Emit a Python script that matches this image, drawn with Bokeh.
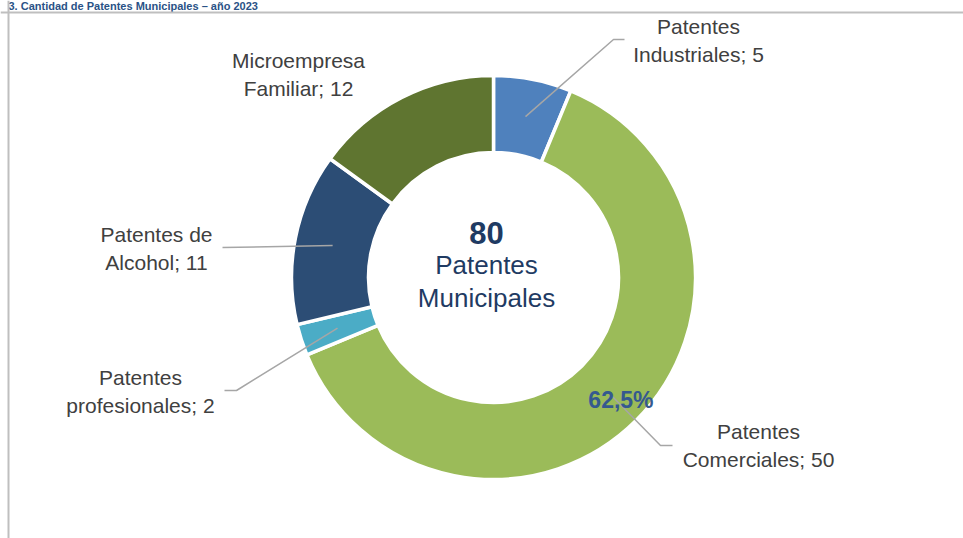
import math
from bokeh.plotting import figure
from bokeh.models import Range1d, ColumnDataSource, Span
from bokeh.core.properties import value
from bokeh.embed import file_html
from bokeh.resources import INLINE

# ---- data ----
title_text = "3. Cantidad de Patentes Municipales – año 2023"
categories = ["Patentes Industriales", "Patentes Comerciales", "Patentes profesionales",
              "Patentes de Alcohol", "Microempresa Familiar"]
counts = [5, 50, 2, 11, 12]
label_texts = ["Patentes\nIndustriales; 5", "Patentes\nComerciales; 50",
               "Patentes\nprofesionales; 2", "Patentes de\nAlcohol; 11",
               "Microempresa\nFamiliar; 12"]
center_total = "80"
center_caption = "Patentes\nMunicipales"
highlight_pct = "62,5%"

# ---- styles / layout ----
colors = ["#4F81BD", "#9BBB59", "#4BACC6", "#2C4D75", "#5F7530"]
W, H = 963, 538
CX, CY = 493, 261
R_IN, R_OUT = 125, 202
FONT = "Liberation Sans"

# label anchor positions (layout)
label_pos = [(698, 498), (758, 93), (140, 147), (156, 290), (298, 464)]
# leader elbows (layout); None = no leader
leaders = [[(613, 499), (624, 499)],
           [(660, 93), (672, 93)],
           [(236, 148), (224, 148)],
           [(222, 291)],
           None]

total = sum(counts)
starts, ends, mids = [], [], []
cum = 0
for c in counts:
    a0 = math.pi / 2 - 2 * math.pi * cum / total
    cum += c
    a1 = math.pi / 2 - 2 * math.pi * cum / total
    starts.append(a0)
    ends.append(a1)
    mids.append((a0 + a1) / 2)

p = figure(width=W, height=H, output_backend="svg", toolbar_location=None,
           x_range=Range1d(0, W), y_range=Range1d(0, H),
           min_border=0, x_axis_type=None, y_axis_type=None)
p.outline_line_color = None
p.grid.visible = False
p.background_fill_color = "white"
p.border_fill_color = "white"

# chart border (top & left visible)
p.add_layout(Span(location=H - 12, dimension="width", line_color="#BFBFBF", line_width=2))
p.add_layout(Span(location=8, dimension="height", line_color="#BFBFBF", line_width=2))

# title (kept fully visible in the narrow band above the chart border)
p.text(x=[8], y=[H - 5.5], text=[title_text], text_font=value(FONT), text_font_size="11px",
       text_font_style="bold", text_color="#2A5286", text_align="left",
       text_baseline="middle")

src = ColumnDataSource(dict(start=starts, end=ends, color=colors, cat=categories))
p.annular_wedge(x=CX, y=CY, inner_radius=R_IN, outer_radius=R_OUT,
                start_angle="start", end_angle="end", direction="clock",
                fill_color="color", line_color="white", line_width=3.5, source=src)

# leader lines
for i, pts in enumerate(leaders):
    if pts is None:
        continue
    r = 164
    sx = CX + r * math.cos(mids[i])
    sy = CY + r * math.sin(mids[i])
    xs = [sx] + [pt[0] for pt in pts]
    ys = [sy] + [pt[1] for pt in pts]
    p.line(xs, ys, line_color="#A6A6A6", line_width=1.5)

# category labels
p.text(x=[lp[0] for lp in label_pos], y=[lp[1] for lp in label_pos], text=label_texts,
       text_font=value(FONT), text_font_size="21px", text_color="#404040",
       text_align="center", text_baseline="middle", text_line_height=1.2)

# percentage on largest slice
pr = 176
p.text(x=[CX + pr * math.cos(mids[1]) + 3], y=[CY + pr * math.sin(mids[1]) + 2], text=[highlight_pct],
       text_font=value(FONT), text_font_size="23px", text_font_style="bold",
       text_color="#35598F", text_align="center", text_baseline="middle")

# center texts
p.text(x=[CX - 7], y=[CY + 45], text=[center_total], text_font=value(FONT),
       text_font_size="31px", text_font_style="bold", text_color="#1F3B63",
       text_align="center", text_baseline="middle")
p.text(x=[CX - 7], y=[CY - 4], text=[center_caption], text_font=value(FONT),
       text_font_size="26px", text_color="#1F3B63", text_align="center",
       text_baseline="middle", text_line_height=1.1)

open("out.html", "w").write(file_html(p, INLINE))
